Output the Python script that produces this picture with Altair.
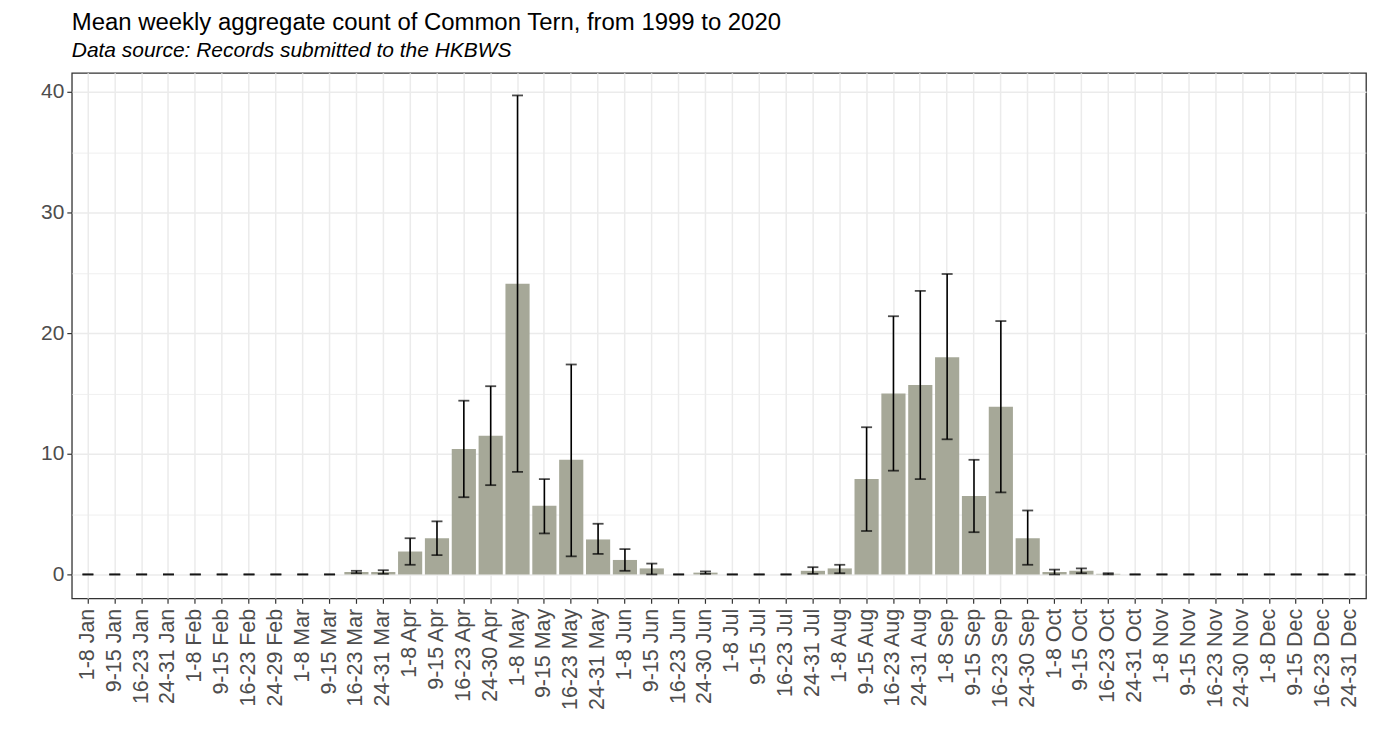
import altair as alt
import pandas as pd

weeks = [
    "1-8 Jan", "9-15 Jan", "16-23 Jan", "24-31 Jan",
    "1-8 Feb", "9-15 Feb", "16-23 Feb", "24-29 Feb",
    "1-8 Mar", "9-15 Mar", "16-23 Mar", "24-31 Mar",
    "1-8 Apr", "9-15 Apr", "16-23 Apr", "24-30 Apr",
    "1-8 May", "9-15 May", "16-23 May", "24-31 May",
    "1-8 Jun", "9-15 Jun", "16-23 Jun", "24-30 Jun",
    "1-8 Jul", "9-15 Jul", "16-23 Jul", "24-31 Jul",
    "1-8 Aug", "9-15 Aug", "16-23 Aug", "24-31 Aug",
    "1-8 Sep", "9-15 Sep", "16-23 Sep", "24-30 Sep",
    "1-8 Oct", "9-15 Oct", "16-23 Oct", "24-31 Oct",
    "1-8 Nov", "9-15 Nov", "16-23 Nov", "24-30 Nov",
    "1-8 Dec", "9-15 Dec", "16-23 Dec", "24-31 Dec",
]

mean_count = [
    0, 0, 0, 0,
    0, 0, 0, 0,
    0, 0, 0.2, 0.2,
    1.9, 3.0, 10.4, 11.5,
    24.1, 5.7, 9.5, 2.9,
    1.2, 0.5, 0, 0.15,
    0, 0, 0, 0.3,
    0.5, 7.9, 15.0, 15.7,
    18.0, 6.5, 13.9, 3.0,
    0.2, 0.3, 0.05, 0,
    0, 0, 0, 0,
    0, 0, 0, 0,
]

err_low = [
    0, 0, 0, 0,
    0, 0, 0, 0,
    0, 0, 0.1, 0.05,
    0.8, 1.6, 6.4, 7.4,
    8.5, 3.4, 1.5, 1.7,
    0.3, 0.0, 0, 0.05,
    0, 0, 0, 0.05,
    0.1, 3.6, 8.6, 7.9,
    11.2, 3.5, 6.8, 0.8,
    0.0, 0.1, 0.0, 0,
    0, 0, 0, 0,
    0, 0, 0, 0,
]

err_high = [
    0, 0, 0, 0,
    0, 0, 0, 0,
    0, 0, 0.3, 0.35,
    3.0, 4.4, 14.4, 15.6,
    39.7, 7.9, 17.4, 4.2,
    2.1, 0.9, 0, 0.25,
    0, 0, 0, 0.6,
    0.8, 12.2, 21.4, 23.5,
    24.9, 9.5, 21.0, 5.3,
    0.4, 0.5, 0.1, 0,
    0, 0, 0, 0,
    0, 0, 0, 0,
]

major_ticks = [0, 10, 20, 30, 40]
minor_ticks = [5, 15, 25, 35]

df = pd.DataFrame({"week": weeks, "mean": mean_count, "lo": err_low, "hi": err_high})

FONT = "Liberation Sans"
GRID = "#EBEBEB"

xscale = alt.Scale(domain=weeks, paddingInner=0.1, paddingOuter=0.15)
yscale = alt.Scale(domain=[-1.98, 41.57], nice=False, zero=False)

xaxis = alt.Axis(
    title=None, labelAngle=270, labelAlign="right", labelBaseline="middle",
    labelFont=FONT, labelFontSize=21.5, labelColor="#4D4D4D", labelPadding=5,
    ticks=True, tickSize=5, tickColor="#333333", tickWidth=1.2,
    domain=False, grid=True, gridColor=GRID, gridWidth=1.5, labelOverlap=False,
)

yaxis_major = alt.Axis(
    title=None, values=major_ticks, labelFont=FONT, labelFontSize=21,
    labelColor="#4D4D4D", labelPadding=3, tickSize=5, tickColor="#333333",
    tickWidth=1.2, domain=False, grid=True, gridColor=GRID, gridWidth=1.5,
    orient="left",
)

yaxis_minor = alt.Axis(
    title=None, values=minor_ticks, labels=False, ticks=False, domain=False,
    grid=True, gridColor=GRID, gridWidth=0.8, orient="left",
)

base = alt.Chart(df)

bars = base.mark_bar(color="#A6A898").encode(
    x=alt.X("week:N", scale=xscale, axis=xaxis, sort=weeks),
    y=alt.Y("mean:Q", scale=yscale, axis=yaxis_major),
)

rules = base.mark_rule(color="black", strokeWidth=1.6).encode(
    x=alt.X("week:N", scale=xscale, axis=xaxis, sort=weeks),
    y=alt.Y("lo:Q", scale=yscale, axis=yaxis_minor),
    y2="hi:Q",
)

caps_lo = base.mark_tick(color="black", size=11, thickness=1.8, orient="horizontal").encode(
    x=alt.X("week:N", scale=xscale, axis=xaxis, sort=weeks),
    y=alt.Y("lo:Q", scale=yscale, axis=None),
)

caps_hi = base.mark_tick(color="black", size=11, thickness=1.8, orient="horizontal").encode(
    x=alt.X("week:N", scale=xscale, axis=xaxis, sort=weeks),
    y=alt.Y("hi:Q", scale=yscale, axis=None),
)

chart = (
    alt.layer(bars, rules, caps_lo, caps_hi)
    .resolve_axis(y="independent")
    .properties(
        width=1298,
        height=527,
        autosize=alt.AutoSizeParams(type="none"),
        padding={"left": 64, "top": 64, "right": 5, "bottom": 130},
        title=alt.Title(
            "Mean weekly aggregate count of Common Tern, from 1999 to 2020",
            subtitle="Data source: Records submitted to the HKBWS",
            anchor="start", frame="group", font=FONT, fontSize=24,
            fontWeight="normal", color="black", subtitleFont=FONT,
            subtitleFontSize=21, subtitleFontStyle="italic",
            subtitleColor="black", subtitlePadding=5, offset=12,
        ),
    )
    .configure_view(stroke="#333333", strokeWidth=1.3)
)

chart.save("out.html", embed_options={"renderer": "svg", "actions": False})
